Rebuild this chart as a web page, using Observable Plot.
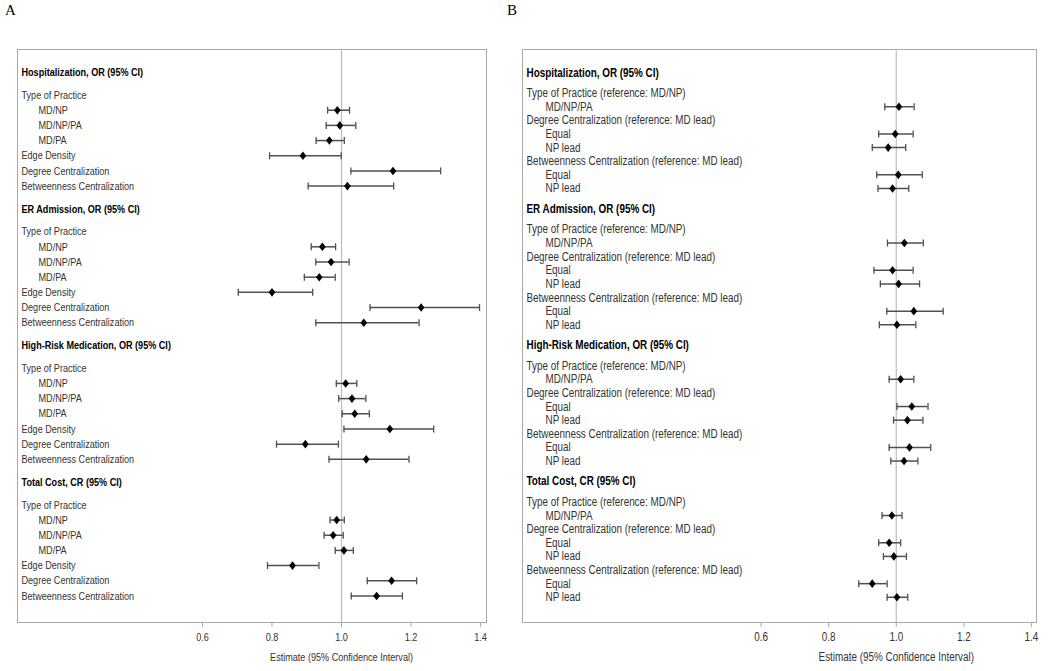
<!DOCTYPE html>
<html>
<head>
<meta charset="utf-8">
<script src="https://cdn.jsdelivr.net/npm/d3@7"></script>
<script src="https://cdn.jsdelivr.net/npm/@observablehq/plot@0.6"></script>
<style>
  body { margin: 0; background: #fff; }
  #wrap { position: relative; width: 1050px; height: 671px; overflow: hidden; }
  .panel-letter { position: absolute; top: 2px; font-family: "Liberation Serif", "DejaVu Serif", serif; font-size: 15px; color: #000; }
  .plot { position: absolute; top: 0; }
  svg text { font-family: "Liberation Sans", Arial, sans-serif; }
</style>
</head>
<body>
<div id="wrap">
  <div class="panel-letter" style="left:5px">A</div>
  <div class="panel-letter" style="left:507px">B</div>
  <div id="plotA" class="plot" style="left:0px"></div>
  <div id="plotB" class="plot" style="left:515px"></div>
</div>
<script>
// ---------------- data ----------------
const outcomes = [
  "Hospitalization, OR (95% CI)",
  "ER Admission, OR (95% CI)",
  "High-Risk Medication, OR (95% CI)",
  "Total Cost, CR (95% CI)"
];

// Panel A
const practiceLabelA = "Type of Practice";
const practiceLevelsA = ["MD/NP", "MD/NP/PA", "MD/PA"];
const networkMeasuresA = ["Edge Density", "Degree Centralization", "Betweenness Centralization"];
// order per outcome: MD/NP, MD/NP/PA, MD/PA, Edge Density, Degree Centr., Betweenness Centr.
const estA = [
  [0.988, 0.995, 0.965, 0.889, 1.148, 1.017],
  [0.945, 0.970, 0.936, 0.800, 1.229, 1.064],
  [1.012, 1.030, 1.038, 1.139, 0.896, 1.071],
  [0.986, 0.976, 1.007, 0.859, 1.144, 1.101]
];
const lowA = [
  [0.960, 0.956, 0.927, 0.793, 1.027, 0.904],
  [0.913, 0.926, 0.893, 0.703, 1.082, 0.926],
  [0.985, 0.992, 1.002, 1.007, 0.813, 0.964],
  [0.967, 0.950, 0.982, 0.787, 1.074, 1.028]
];
const highA = [
  [1.023, 1.041, 1.008, 0.999, 1.285, 1.150],
  [0.983, 1.022, 0.982, 0.917, 1.397, 1.223],
  [1.044, 1.070, 1.080, 1.265, 0.991, 1.194],
  [1.008, 1.005, 1.034, 0.935, 1.216, 1.175]
];

// Panel B
const sectionLabelsB = [
  "Type of Practice (reference: MD/NP)",
  "Degree Centralization (reference: MD lead)",
  "Betweenness Centralization (reference: MD lead)"
];
const sectionLevelsB = [["MD/NP/PA"], ["Equal", "NP lead"], ["Equal", "NP lead"]];
// order per outcome: MD/NP/PA, Degree Equal, Degree NP lead, Betweenness Equal, Betweenness NP lead
const estB = [
  [1.008, 0.997, 0.976, 1.006, 0.989],
  [1.024, 0.989, 1.007, 1.052, 1.002],
  [1.013, 1.046, 1.033, 1.039, 1.023],
  [0.987, 0.979, 0.993, 0.929, 1.002]
];
const lowB = [
  [0.966, 0.948, 0.929, 0.942, 0.946],
  [0.974, 0.934, 0.953, 0.972, 0.950],
  [0.979, 1.002, 0.992, 0.979, 0.984],
  [0.958, 0.948, 0.962, 0.889, 0.973]
];
const highB = [
  [1.053, 1.050, 1.028, 1.077, 1.037],
  [1.080, 1.050, 1.069, 1.139, 1.058],
  [1.052, 1.094, 1.079, 1.102, 1.064],
  [1.017, 1.013, 1.030, 0.973, 1.034]
];

const xTicks = [0.6, 0.8, 1.0, 1.2, 1.4];
const referenceValue = 1;
const axisTitle = "Estimate (95% Confidence Interval)";

// ---------------- layout helpers ----------------
function buildRows(sections, est, lo, hi) {
  const rows = [];
  let pos = 0;
  outcomes.forEach((title, g) => {
    rows.push({pos, text: title, kind: "header"});
    pos += 3;
    let k = 0;
    sections.forEach(s => {
      if (s.levels) {
        rows.push({pos, text: s.label, kind: "sub"});
        pos += 2;
        s.levels.forEach(lv => {
          rows.push({pos, text: lv, kind: "level", est: est[g][k], lo: lo[g][k], hi: hi[g][k]});
          k++; pos += 2;
        });
      } else {
        rows.push({pos, text: s.label, kind: "sub", est: est[g][k], lo: lo[g][k], hi: hi[g][k]});
        k++; pos += 2;
      }
    });
    pos += 1;
  });
  return rows;
}

const sectionsA = [{label: practiceLabelA, levels: practiceLevelsA}, ...networkMeasuresA.map(m => ({label: m}))];
const sectionsB = sectionLabelsB.map((l, i) => ({label: l, levels: sectionLevelsB[i]}));

const rowsA = buildRows(sectionsA, estA, lowA, highA);
const rowsB = buildRows(sectionsB, estB, lowB, highB);

const capSymbol = {
  draw(ctx, size) { const r = Math.sqrt(size / Math.PI); ctx.moveTo(0, -r); ctx.lineTo(0, r); }
};
const diamondSymbol = {
  draw(ctx, size) {
    const r = Math.sqrt(size / Math.PI);
    ctx.moveTo(0, -r); ctx.lineTo(r * 0.78, 0); ctx.lineTo(0, r); ctx.lineTo(-r * 0.78, 0); ctx.closePath();
  }
};

function forest(rows, opts) {
  const data = rows.filter(d => d.est != null);
  const barColor = "#505050";
  return Plot.plot({
    width: opts.width,
    height: 671,
    marginLeft: opts.marginLeft,
    marginRight: opts.marginRight,
    marginTop: 49,
    marginBottom: 49,
    style: {fontSize: opts.fontSize, background: "transparent"},
    x: {domain: opts.xDomain},
    y: {domain: opts.yDomain, reverse: true, axis: null},
    marks: [
      Plot.frame({stroke: "#a9a9a9"}),
      Plot.ruleX([referenceValue], {stroke: "#bdbdbd", strokeWidth: 1.2}),
      Plot.ruleY(data, {y: "pos", x1: "lo", x2: "hi", stroke: barColor, strokeWidth: 1.5}),
      Plot.dot(data, {x: "lo", y: "pos", symbol: capSymbol, r: 3.5, stroke: barColor, fill: "none", strokeWidth: 1.3}),
      Plot.dot(data, {x: "hi", y: "pos", symbol: capSymbol, r: 3.5, stroke: barColor, fill: "none", strokeWidth: 1.3}),
      Plot.dot(data, {x: "est", y: "pos", symbol: diamondSymbol, r: 4.3, fill: "black", stroke: "none"}),
      Plot.text(rows.filter(d => d.kind === "header"), {y: "pos", text: "text", frameAnchor: "left", textAnchor: "start", dx: 4, fontWeight: "bold", fill: "#000"}),
      Plot.text(rows.filter(d => d.kind === "sub"), {y: "pos", text: "text", frameAnchor: "left", textAnchor: "start", dx: 4, fill: "#333"}),
      Plot.text(rows.filter(d => d.kind === "level"), {y: "pos", text: "text", frameAnchor: "left", textAnchor: "start", dx: opts.indent, fill: "#333"}),
      Plot.axisX({ticks: xTicks, tickSize: 5, tickPadding: 5, label: null, tickFormat: d3.format(".1f"), stroke: "#a9a9a9", fill: "#333"}),
      Plot.text([axisTitle], {x: () => referenceValue, text: d => d, frameAnchor: "bottom", dy: 38, fill: "#333"})
    ]
  });
}

// emulate the narrow sans face of the original by compressing glyphs horizontally
function condense(svg, factor) {
  svg.querySelectorAll("text").forEach(t => {
    const len = t.getComputedTextLength();
    if (len > 0) {
      t.setAttribute("textLength", (len * factor).toFixed(2));
      t.setAttribute("lengthAdjust", "spacingAndGlyphs");
    }
  });
}

const svgA = forest(rowsA, {
  width: 500, marginLeft: 17, marginRight: 14, fontSize: "11.5px",
  xDomain: [0.068, 1.417], yDomain: [-3.0, 72.5], indent: 21
});
const svgB = forest(rowsB, {
  width: 535, marginLeft: 7, marginRight: 14, fontSize: "12.5px",
  xDomain: [-0.106, 1.415], yDomain: [-3.4, 80.7], indent: 23
});
document.getElementById("plotA").append(svgA);
document.getElementById("plotB").append(svgB);
condense(svgA, 0.79);
condense(svgB, 0.79);
</script>
</body>
</html>
